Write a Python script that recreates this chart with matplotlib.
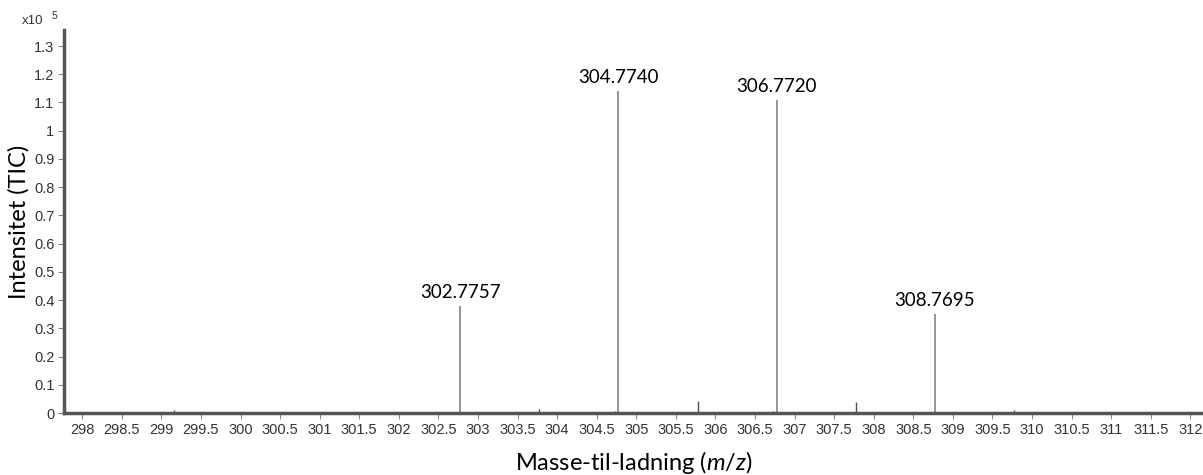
import numpy as np
import matplotlib.pyplot as plt

plt.rcParams['mathtext.fontset'] = 'custom'
plt.rcParams['mathtext.it'] = 'Lato:italic'
plt.rcParams['mathtext.rm'] = 'Lato'

# Pics du spectre de masse (m/z, intensité en x10^5)
mz_pics = [302.7757, 304.7740, 306.7720, 308.7695]
int_pics = [0.38, 1.14, 1.11, 0.35]

# Petits pics isotopiques / bruit
mz_petits = [299.16, 300.88, 303.13, 303.77, 304.73, 305.78, 306.73,
             307.14, 307.29, 307.77, 309.33, 309.77, 311.16]
int_petits = [0.010, 0.004, 0.005, 0.015, 0.006, 0.043, 0.006,
              0.004, 0.004, 0.040, 0.004, 0.012, 0.003]

etiquettes = ["302.7757", "304.7740", "306.7720", "308.7695"]

xticks = np.arange(298, 312.01, 0.5)
yticks = np.arange(0, 1.31, 0.1)

fig = plt.figure(figsize=(12.03, 4.75), dpi=100)
ax = fig.add_axes([0.0532, 0.1305, 0.9468, 0.8065])

ax.vlines(mz_petits, 0, int_petits, color='#505050', linewidth=1.0)
ax.vlines(mz_pics, 0, int_pics, color='#8c8c8c', linewidth=1.3)

for x, y, t in zip(mz_pics, int_pics, etiquettes):
    ax.text(x, y + 0.018, t, ha='center', va='bottom', fontsize=13.5,
            family='Lato', color='black')

ax.set_xlim(297.77, 312.16)
ax.set_ylim(0, 1.357)

ax.set_xticks(xticks)
ax.set_xticklabels(['%g' % v for v in xticks])
ax.set_yticks(yticks)
ax.set_yticklabels(['%g' % round(v, 1) for v in yticks])
ax.tick_params(axis='both', labelsize=10.5, labelcolor='#333333', length=4,
               width=0.8, direction='out', pad=3, color='#888888')
for lab in ax.get_xticklabels() + ax.get_yticklabels():
    lab.set_family('Liberation Sans')

for s in ['top', 'right']:
    ax.spines[s].set_visible(False)
for s in ['left', 'bottom']:
    ax.spines[s].set_color('#555555')
    ax.spines[s].set_linewidth(2.5)

ax.set_xlabel('Masse-til-ladning ($m/z$)', fontsize=17,
              family='Lato', labelpad=9)
ax.set_ylabel('Intensitet (TIC)', fontsize=17, family='Lato', labelpad=3)

fig.text(0.018, 0.955, 'x10', fontsize=9.5, family='Liberation Sans',
         color='#333333', va='center')
fig.text(0.0425, 0.967, '5', fontsize=7.5, family='Liberation Sans',
         color='#333333', va='center')

fig.savefig('out.png', dpi=100)
